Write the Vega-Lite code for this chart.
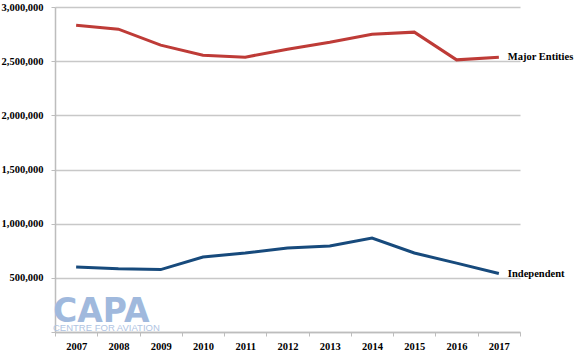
{
  "$schema": "https://vega.github.io/schema/vega-lite/v6.json",
  "width": 465,
  "height": 325,
  "autosize": {"type": "none"},
  "padding": {"left": 55, "top": 7, "right": 60, "bottom": 23},
  "background": "white",
  "config": {
    "view": {"stroke": null},
    "font": "Liberation Serif"
  },
  "datasets": {
    "main": [
      {"year": "2007", "series": "Major Entities", "value": 2832000},
      {"year": "2008", "series": "Major Entities", "value": 2795000},
      {"year": "2009", "series": "Major Entities", "value": 2648000},
      {"year": "2010", "series": "Major Entities", "value": 2555000},
      {"year": "2011", "series": "Major Entities", "value": 2537000},
      {"year": "2012", "series": "Major Entities", "value": 2610000},
      {"year": "2013", "series": "Major Entities", "value": 2675000},
      {"year": "2014", "series": "Major Entities", "value": 2749000},
      {"year": "2015", "series": "Major Entities", "value": 2768000},
      {"year": "2016", "series": "Major Entities", "value": 2512000},
      {"year": "2017", "series": "Major Entities", "value": 2537000},
      {"year": "2007", "series": "Independent", "value": 600000},
      {"year": "2008", "series": "Independent", "value": 583000},
      {"year": "2009", "series": "Independent", "value": 576000},
      {"year": "2010", "series": "Independent", "value": 692000},
      {"year": "2011", "series": "Independent", "value": 729000},
      {"year": "2012", "series": "Independent", "value": 775000},
      {"year": "2013", "series": "Independent", "value": 793000},
      {"year": "2014", "series": "Independent", "value": 867000},
      {"year": "2015", "series": "Independent", "value": 729000},
      {"year": "2016", "series": "Independent", "value": 636000},
      {"year": "2017", "series": "Independent", "value": 540000}
    ],
    "logo": [
      {"year": "2007", "label": "CAPA", "value": 95000},
      {"year": "2007", "label": "CENTRE FOR AVIATION", "value": 12000}
    ]
  },
  "data": {"name": "main"},
  "encoding": {
    "x": {
      "field": "year",
      "type": "ordinal",
      "scale": {"paddingInner": 0, "paddingOuter": 0},
      "axis": {
        "title": null,
        "labelAngle": 0,
        "labelFont": "Liberation Serif",
        "labelFontWeight": "bold",
        "labelFontSize": 10.5,
        "labelColor": "black",
        "labelPadding": 5,
        "tickBand": "extent",
        "tickSize": 4,
        "tickColor": "#bdbdbd",
        "domainColor": "#bdbdbd",
        "domainWidth": 1.5
      }
    },
    "y": {
      "field": "value",
      "type": "quantitative",
      "scale": {"domain": [0, 3000000], "nice": false},
      "axis": {
        "title": null,
        "values": [0, 500000, 1000000, 1500000, 2000000, 2500000, 3000000],
        "labelExpr": "datum.value == 0 ? '' : format(datum.value, ',')",
        "labelFont": "Liberation Serif",
        "labelFontWeight": "bold",
        "labelFontSize": 10.5,
        "labelColor": "black",
        "labelPadding": 8,
        "tickSize": 4,
        "tickColor": "#bdbdbd",
        "domainColor": "#bdbdbd",
        "domainWidth": 1.5,
        "grid": true,
        "gridColor": "#c8c8c8",
        "gridWidth": 1.5
      }
    }
  },
  "layer": [
    {
      "data": {"name": "logo"},
      "transform": [{"filter": "datum.label == 'CAPA'"}],
      "mark": {"type": "text", "font": "DejaVu Sans", "fontWeight": "bold", "fontSize": 33, "align": "left", "baseline": "alphabetic", "color": "#a0b9dd", "dx": -2},
      "encoding": {
        "x": {"field": "year", "type": "ordinal", "bandPosition": 0},
        "y": {"field": "value", "type": "quantitative"},
        "text": {"field": "label"}
      }
    },
    {
      "data": {"name": "logo"},
      "transform": [{"filter": "datum.label != 'CAPA'"}],
      "mark": {"type": "text", "font": "Liberation Sans", "fontSize": 9.5, "align": "left", "baseline": "alphabetic", "color": "#b0c4e2", "dx": -2},
      "encoding": {
        "x": {"field": "year", "type": "ordinal", "bandPosition": 0},
        "y": {"field": "value", "type": "quantitative"},
        "text": {"field": "label"}
      }
    },
    {
      "mark": {"type": "line", "strokeWidth": 3},
      "encoding": {
        "color": {
          "field": "series",
          "type": "nominal",
          "scale": {"domain": ["Major Entities", "Independent"], "range": ["#be3b37", "#174a7c"]},
          "legend": null
        }
      }
    },
    {
      "transform": [{"filter": "datum.year == '2017'"}],
      "mark": {"type": "text", "align": "left", "dx": 9, "font": "Liberation Serif", "fontWeight": "bold", "fontSize": 10.5, "color": "black"},
      "encoding": {"text": {"field": "series"}}
    }
  ]
}
